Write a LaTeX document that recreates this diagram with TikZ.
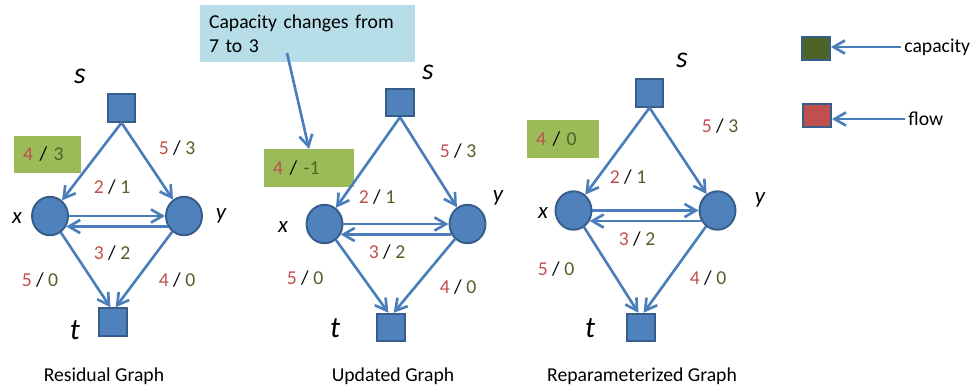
\documentclass[tikz,border=0pt]{standalone}
\usepackage{fontspec}
\setmainfont{Carlito}
\usepackage{xcolor}
\usepackage{tikz}
\usetikzlibrary{shapes,arrows.meta,positioning}

\definecolor{nodeblue}{HTML}{4F81BD}
\definecolor{nodeedge}{HTML}{385D8A}
\definecolor{edgeblue}{HTML}{4A7EBB}
\definecolor{boxgreen}{HTML}{9BBB59}
\definecolor{flowred}{HTML}{C0504D}
\definecolor{capgreen}{HTML}{4F6228}
\definecolor{notecyan}{HTML}{B7DEE8}

\newcommand{\fc}[2]{\textcolor{flowred}{#1} / \textcolor{capgreen}{#2}}

\begin{document}
\begin{tikzpicture}[
    x=0.02cm, y=-0.02cm,
    font=\fontsize{11.2}{13.6}\selectfont,
    term/.style={rectangle, draw=nodeedge, fill=nodeblue, line width=1.1pt, minimum size=0.55cm, inner sep=0pt},
    inner/.style={ellipse, draw=nodeedge, fill=nodeblue, line width=1.1pt, minimum width=0.72cm, minimum height=0.77cm, inner sep=0pt},
    termlbl/.style={font=\fontsize{17}{20}\selectfont\itshape},
    varlbl/.style={font=\fontsize{13}{15}\selectfont\itshape},
    capbox/.style={fill=boxgreen, minimum height=0.75cm, inner xsep=0.18cm, align=left},
    arrow/.style={-{Straight Barb[angle=60:7.5pt]}, line width=1.5pt, draw=edgeblue},
    legsq/.style={rectangle, draw=nodeedge, line width=1.1pt, minimum width=0.56cm, minimum height=0.46cm, inner sep=0pt}
]
    \useasboundingbox (0,0) rectangle (972,387);

    % Residual graph
    \node[term] (s1) at (121.5,108) {};
    \node[inner] (x1) at (50,216) {};
    \node[inner] (y1) at (184,216) {};
    \node[term] (t1) at (113,322) {};
    \node[termlbl] (s1l) at (80,76) {s};
    \node[termlbl] (t1l) at (75,330) {t};
    \node[varlbl] (x1l) at (17,218) {x};
    \node[varlbl] (y1l) at (221,216) {y};
    \node[capbox, text width=0.98cm] (b1) at (47.5,154.5) {\fc{4}{3}};

    \draw[arrow] (s1.south) -- (x1);
    \draw[arrow] (s1.south) -- (y1);
    \draw[arrow] (x1.east) -- (y1.west);
    \draw[arrow] (y1.-147) -- (x1.-33);
    \draw[arrow] (x1) -- (t1.100);
    \draw[arrow] (y1) -- (t1.80);

    \node (e1a) at (177,148) {\fc{5}{3}};
    \node (e1b) at (112,187) {\fc{2}{1}};
    \node (e1c) at (112,253) {\fc{3}{2}};
    \node (e1d) at (40,280) {\fc{5}{0}};
    \node (e1e) at (177,280) {\fc{4}{0}};
    \node (g1) at (104,376) {Residual Graph};

    % Updated graph
    \node[fill=notecyan, minimum width=4.3cm, minimum height=1.14cm, text width=3.94cm, inner xsep=0.18cm, align=left] (note) at (307.5,33.5) {Capacity changes from\\7 to 3};
    \coordinate (notefoot) at (287,53);

    \node[term] (s2) at (400,102.5) {};
    \node[inner] (x2) at (324.5,224) {};
    \node[inner] (y2) at (467.5,224) {};
    \node[term] (t2) at (391,327.5) {};
    \node[termlbl] (s2l) at (428,72) {s};
    \node[termlbl] (t2l) at (335,328) {t};
    \node[varlbl] (x2l) at (283,227) {x};
    \node[varlbl] (y2l) at (498,198) {y};
    \node[capbox, text width=1.44cm] (b2) at (309,168) {\fc{4}{-1}};

    \draw[arrow] (notefoot) -- (b2.north);
    \draw[arrow] (s2.south) -- (x2);
    \draw[arrow] (s2.south) -- (y2);
    \draw[arrow] (x2.east) -- (y2.west);
    \draw[arrow] (y2.-147) -- (x2.-33);
    \draw[arrow] (x2) -- (t2.100);
    \draw[arrow] (y2) -- (t2.80);

    \node (e2a) at (458,151) {\fc{5}{3}};
    \node (e2b) at (377,197) {\fc{2}{1}};
    \node (e2c) at (387,252) {\fc{3}{2}};
    \node (e2d) at (305,278) {\fc{5}{0}};
    \node (e2e) at (458,287) {\fc{4}{0}};
    \node (g2) at (393,376) {Updated Graph};

    % Reparameterized graph
    \node[term] (s3) at (649.5,93) {};
    \node[inner] (x3) at (573.5,210.5) {};
    \node[inner] (y3) at (717.5,210.5) {};
    \node[term] (t3) at (641,327.5) {};
    \node[termlbl] (s3l) at (682,60) {s};
    \node[termlbl] (t3l) at (590,328) {t};
    \node[varlbl] (x3l) at (543,213) {x};
    \node[varlbl] (y3l) at (760,200) {y};
    \node[capbox, text width=1.08cm] (b3) at (563,139) {\fc{4}{0}};

    \draw[arrow] (s3.south) -- (x3);
    \draw[arrow] (s3.south) -- (y3);
    \draw[arrow] (x3.east) -- (y3.west);
    \draw[arrow] (y3.-147) -- (x3.-33);
    \draw[arrow] (x3) -- (t3.100);
    \draw[arrow] (y3) -- (t3.80);

    \node (e3a) at (720,126) {\fc{5}{3}};
    \node (e3b) at (628,177) {\fc{2}{1}};
    \node (e3c) at (637,239) {\fc{3}{2}};
    \node (e3d) at (556,269) {\fc{5}{0}};
    \node (e3e) at (708,278) {\fc{4}{0}};
    \node (g3) at (642,376) {Reparameterized Graph};

    % Legend
    \node[legsq, fill=capgreen] (capsq) at (816,48.5) {};
    \node[legsq, fill=flowred] (flowsq) at (817,115.5) {};
    \node[anchor=west, inner sep=0pt] (caplab) at (904,47) {capacity};
    \node[anchor=west, inner sep=0pt] (flowlab) at (908,119) {flow};
    \draw[arrow] ([xshift=-2pt]caplab.west) -- (caplab.west -| capsq.east);
    \draw[arrow] ([xshift=-2pt]flowlab.west) -- (flowlab.west -| flowsq.east);

\end{tikzpicture}
\end{document}
